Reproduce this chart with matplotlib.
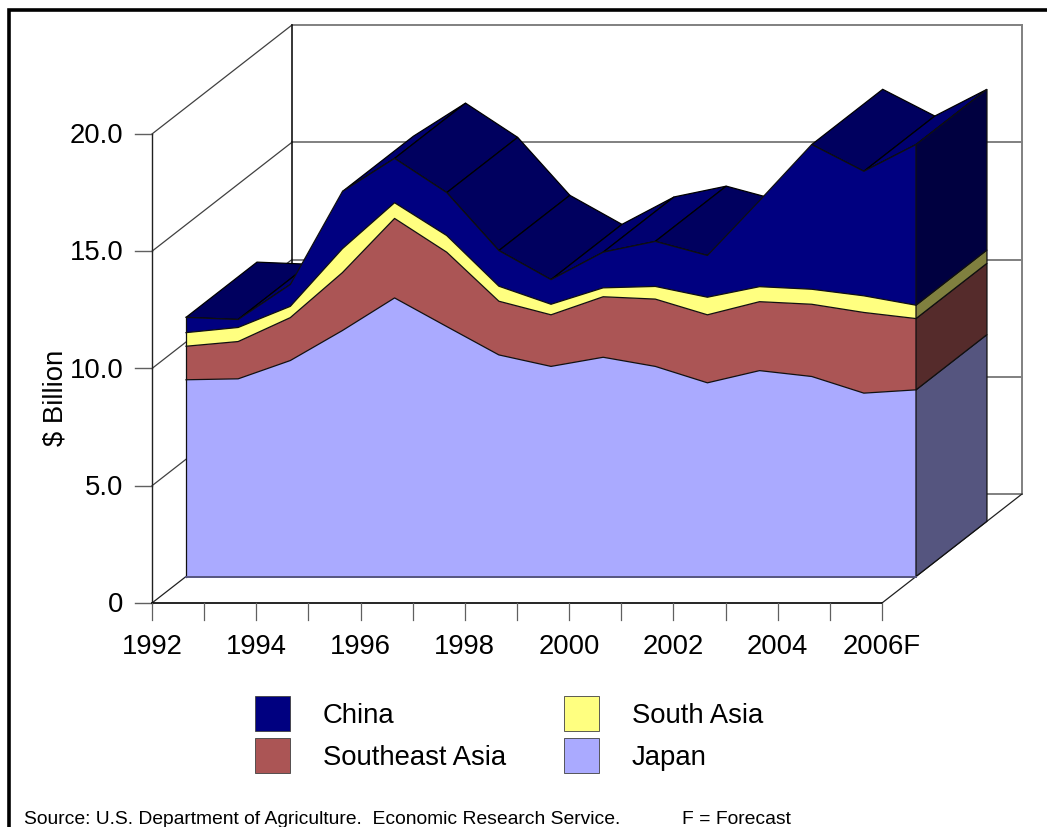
import numpy as np
import matplotlib
matplotlib.use('Agg')
import matplotlib.pyplot as plt
from matplotlib.patches import Polygon, Patch

plt.rcParams['font.family'] = ['Liberation Sans', 'DejaVu Sans']

years = ['1992', '', '1994', '', '1996', '', '1998', '', '2000', '', '2002', '', '2004', '', '2006F']
value_ticks = [0, 5, 10, 15, 20]
value_labels = ['0', '5.0', '10.0', '15.0', '20.0']

# $ billion
japan = [8.39, 8.43, 9.21, 10.49, 11.88, 10.66, 9.45, 8.96, 9.35, 8.96, 8.26, 8.78, 8.53, 7.82, 7.96]
southeast_asia = [1.43, 1.59, 1.83, 2.47, 3.39, 3.17, 2.29, 2.20, 2.58, 2.87, 2.90, 2.94, 3.08, 3.44, 3.04]
south_asia = [0.58, 0.60, 0.48, 1.02, 0.67, 0.71, 0.64, 0.45, 0.38, 0.54, 0.75, 0.64, 0.64, 0.71, 0.57]
china = [0.65, 0.34, 0.93, 2.44, 1.89, 1.83, 1.52, 1.05, 1.52, 1.92, 1.78, 3.67, 6.17, 5.31, 6.85]

front_cols = ['#AAAAFF', '#AB5555', '#FFFF80', '#000080']
side_cols = ['#55557F', '#552B2B', '#80803F', '#000040']

# oblique 3D look: a point is (category, value, depth) with depth 0..1
DC, DV = 2.685, 4.648
D_FRONT, D_BACK = 0.243, 0.75
GRID = '#808080'
FS = 19.8


def proj(c, v, d=0.0):
    return c + DC * d, v + DV * d


fig = plt.figure(figsize=(10.47, 8.27), dpi=100)
ax = fig.add_axes([0, 0, 1, 1])
ax.set_xlim(-2.915, 17.165)
ax.set_ylim(-9.552, 25.714)
ax.set_axis_off()

n = len(years) - 1

# walls and floor
for v, lab in zip(value_ticks, value_labels):
    a, b, e = proj(0, v), proj(0, v, 1), proj(n, v, 1)
    if v > 0:
        ax.plot([a[0], b[0]], [a[1], b[1]], color='#404040', lw=0.9, zorder=1)
    ax.plot([b[0], e[0]], [b[1], e[1]], color=GRID, lw=1.4, zorder=1)
    ax.plot([-0.33, 0], [v, v], color='#606060', lw=1, zorder=1)
    ax.text(-0.55, v - 0.09, lab, ha='right', va='center', fontsize=FS)

ax.plot(*zip(proj(0, 0), proj(0, 20)), color='#202020', lw=1, zorder=1)
ax.plot(*zip(proj(0, 0, 1), proj(0, 20, 1)), color='black', lw=1.1, zorder=1)
ax.plot(*zip(proj(n, 0, 1), proj(n, 20, 1)), color=GRID, lw=1.4, zorder=1)
ax.plot(*zip(proj(0, 0), proj(0, 0, 1)), color='#202020', lw=0.9, zorder=1)
ax.plot(*zip(proj(n, 0), proj(n, 0, 1)), color='#202020', lw=0.9, zorder=1)
ax.plot(*zip(proj(0, 0), proj(n, 0)), color='black', lw=1.2, zorder=1)

for i, lab in enumerate(years):
    ax.plot([i, i], [0, -0.72], color='#606060', lw=0.9, zorder=1)
    if lab:
        ax.text(i, -1.88, lab, ha='center', va='center', fontsize=FS)

stack = np.cumsum([japan, southeast_asia, south_asia, china], axis=0)
cats = np.arange(n + 1)
top = stack[-1]

# top faces of the stack, left to right
z = 2
depth_slope = DV / DC
for i in range(n):
    rise = top[i + 1] - top[i]
    if rise > depth_slope:
        continue
    pts = [proj(i, top[i], D_FRONT), proj(i + 1, top[i + 1], D_FRONT),
           proj(i + 1, top[i + 1], D_BACK), proj(i, top[i], D_BACK)]
    col = '#000070' if rise > 0.05 else '#00005F'
    ax.add_patch(Polygon(pts, facecolor=col, edgecolor='black', lw=0.9, zorder=z))
    z += 0.01

# front faces and right end
lower = np.zeros(n + 1)
for k in range(4):
    upper = stack[k]
    xs, ys = proj(cats, upper, D_FRONT)
    xb, yb = proj(cats, lower, D_FRONT)
    pts = np.vstack([np.column_stack([xs, ys]), np.column_stack([xb, yb])[::-1]])
    ax.add_patch(Polygon(pts, facecolor=front_cols[k], edgecolor='none', zorder=4))
    ax.plot(xs, ys, color='#101010', lw=0.9, zorder=5)

    side = [proj(n, lower[-1], D_FRONT), proj(n, upper[-1], D_FRONT),
            proj(n, upper[-1], D_BACK), proj(n, lower[-1], D_BACK)]
    ax.add_patch(Polygon(side, facecolor=side_cols[k], edgecolor='#101010', lw=0.9, zorder=4))
    lower = upper

# left and bottom edges of the front face
x0, y0 = proj(0, 0, D_FRONT)
x1, y1 = proj(0, top[0], D_FRONT)
ax.plot([x0, x1], [y0, y1], color='#101010', lw=0.9, zorder=5)
x2, y2 = proj(n, 0, D_FRONT)
ax.plot([x0, x2], [y0, y2], color='#55557F', lw=1.4, zorder=5)

ax.text(-1.85, 8.75, '$ Billion', rotation=90, ha='center', va='center', fontsize=FS)

handles = [Patch(facecolor=front_cols[3], edgecolor='#404040', lw=0.6, label='China'),
           Patch(facecolor=front_cols[1], edgecolor='#404040', lw=0.6, label='Southeast Asia'),
           Patch(facecolor=front_cols[2], edgecolor='#404040', lw=0.6, label='South Asia'),
           Patch(facecolor=front_cols[0], edgecolor='#404040', lw=0.6, label='Japan')]
fig.legend(handles=handles, ncol=2, frameon=False, fontsize=FS,
           handlelength=1.27, handleheight=1.58, handletextpad=1.2,
           columnspacing=2.1, labelspacing=0.26, borderpad=0, borderaxespad=0,
           loc='upper left', bbox_to_anchor=(255 / 1047, 1 - 696 / 827))

fig.text(24 / 1047, 1 - 820 / 827, 'Source: U.S. Department of Agriculture.  Economic Research Service.',
         ha='left', va='center', fontsize=13.87)
fig.text(682 / 1047, 1 - 820 / 827, 'F = Forecast', ha='left', va='center', fontsize=13.87)

# thick frame, only left and top show
fig.add_artist(plt.Line2D([9 / 1047, 9 / 1047, 1], [0, 1 - 9.5 / 827, 1 - 9.5 / 827],
                          color='black', lw=2.6, solid_joinstyle='miter'))

fig.savefig('out.png', dpi=100)
